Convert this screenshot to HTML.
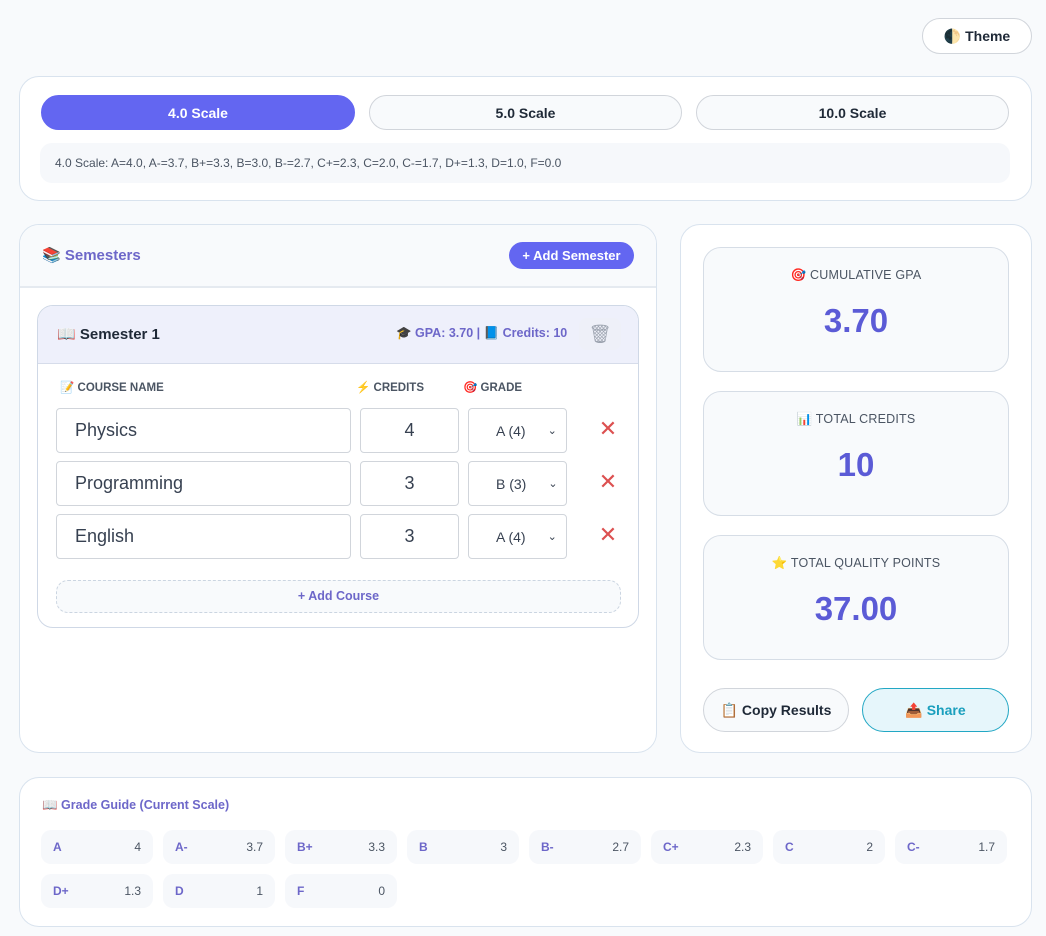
<!DOCTYPE html>
<html><head><meta charset="utf-8"><style>
*{box-sizing:border-box;margin:0;padding:0}
body{width:1046px;height:936px;background:#f8fafc;font-family:"Liberation Sans","Noto Sans CJK SC",sans-serif;position:relative;overflow:hidden;color:#1f2937}
.a{position:absolute}
.card{position:absolute;background:#fff;border:1px solid #d9e3ee;border-radius:20px}
.pill{position:absolute;border-radius:18px;border:1px solid #d1d5db;background:#f8fafc;display:flex;align-items:center;justify-content:center;font-weight:bold;font-size:14px;color:#1f2937}
.inp{position:absolute;border:1px solid #d1d5db;border-radius:4px;background:#fff;font-size:18px;color:#374151;display:flex;align-items:center}
.x{position:absolute;color:#dc5050;font-size:22px;width:56px;text-align:center}
.stat{position:absolute;left:703px;width:306px;height:125px;border:1px solid #d6dde6;border-radius:18px;background:#f8fafc;text-align:center}
.stat .l{margin-top:20px;font-size:12.5px;color:#4b5563;letter-spacing:.2px}
.stat .v{margin-top:19px;font-size:33px;font-weight:bold;color:#5b5bd6}
.chip{position:absolute;width:112px;height:34px;background:#f6f8fb;border-radius:10px;font-size:12px;display:flex;align-items:center;justify-content:space-between;padding:0 12px}
.chip b{color:#6d67c9}
.chip span{color:#4b5563}
.lab{position:absolute;top:380px;font-size:11.5px;font-weight:bold;color:#4b5563}
</style></head><body>
<div class="pill" style="left:922px;top:18px;width:110px;height:36px;background:#fff">🌓&nbsp;Theme</div>

<div class="card" style="left:19px;top:76px;width:1013px;height:125px"></div>
<div class="pill" style="left:41px;top:95px;width:314px;height:35px;background:#6366f1;color:#fff;border-color:#6366f1">4.0 Scale</div>
<div class="pill" style="left:369px;top:95px;width:313px;height:35px">5.0 Scale</div>
<div class="pill" style="left:696px;top:95px;width:313px;height:35px">10.0 Scale</div>
<div class="a" style="left:40px;top:143px;width:970px;height:40px;background:#f6f8fb;border-radius:12px;font-size:12px;color:#4b5563;padding:13px 15px">4.0 Scale: A=4.0, A-=3.7, B+=3.3, B=3.0, B-=2.7, C+=2.3, C=2.0, C-=1.7, D+=1.3, D=1.0, F=0.0</div>

<div class="card" style="left:19px;top:224px;width:638px;height:529px;overflow:hidden">
 <div style="height:63px;background:#f8fafc;border-bottom:2px solid #e5eaf0"></div>
</div>
<div class="a" style="left:42px;top:246px;font-size:15px;font-weight:bold;color:#6d67c9">📚 Semesters</div>
<div class="a" style="left:509px;top:242px;width:125px;height:27px;border-radius:14px;background:#6366f1;color:#fff;font-size:13px;font-weight:bold;text-align:center;line-height:27px">+ Add Semester</div>

<div class="a" style="left:37px;top:305px;width:602px;height:323px;border:1px solid #cfd8e6;border-radius:16px;background:#fff;overflow:hidden">
 <div style="height:58px;background:#eef0fb;border-bottom:1px solid #d6dcea"></div>
</div>
<div class="a" style="left:57px;top:325px;font-size:15px;font-weight:bold;color:#1f2937">📖 Semester 1</div>
<div class="a" style="left:396px;top:326px;font-size:12.5px;font-weight:bold;color:#6d67c9">🎓 GPA: 3.70 | 📘 Credits: 10</div>
<div class="a" style="left:579px;top:318px;width:42px;height:32px;border-radius:8px;background:#eef0f8;text-align:center;line-height:32px;color:#9ca3af;font-size:18px">🗑</div>

<div class="lab" style="left:60px">📝 COURSE NAME</div>
<div class="lab" style="left:356px">⚡ CREDITS</div>
<div class="lab" style="left:463px">🎯 GRADE</div>

<div class="inp" style="left:56px;top:408px;width:295px;height:45px;padding-left:18px">Physics</div>
<div class="inp" style="left:360px;top:408px;width:99px;height:45px;justify-content:center">4</div>
<div class="inp" style="left:468px;top:408px;width:99px;height:45px;font-size:14px;padding-left:27px">A (4)<span style="margin-left:22px;font-size:11px">⌄</span></div>
<div class="x" style="left:580px;top:416px">✕</div>

<div class="inp" style="left:56px;top:461px;width:295px;height:45px;padding-left:18px">Programming</div>
<div class="inp" style="left:360px;top:461px;width:99px;height:45px;justify-content:center">3</div>
<div class="inp" style="left:468px;top:461px;width:99px;height:45px;font-size:14px;padding-left:27px">B (3)<span style="margin-left:22px;font-size:11px">⌄</span></div>
<div class="x" style="left:580px;top:469px">✕</div>

<div class="inp" style="left:56px;top:514px;width:295px;height:45px;padding-left:18px">English</div>
<div class="inp" style="left:360px;top:514px;width:99px;height:45px;justify-content:center">3</div>
<div class="inp" style="left:468px;top:514px;width:99px;height:45px;font-size:14px;padding-left:27px">A (4)<span style="margin-left:22px;font-size:11px">⌄</span></div>
<div class="x" style="left:580px;top:522px">✕</div>

<div class="a" style="left:56px;top:580px;width:565px;height:33px;border:1px dashed #cbd5e1;border-radius:12px;background:#f8fafc;text-align:center;line-height:31px;font-size:12.5px;font-weight:bold;color:#6d67c9">+ Add Course</div>

<div class="card" style="left:680px;top:224px;width:352px;height:529px"></div>
<div class="stat" style="top:247px"><div class="l">🎯 CUMULATIVE GPA</div><div class="v">3.70</div></div>
<div class="stat" style="top:391px"><div class="l">📊 TOTAL CREDITS</div><div class="v">10</div></div>
<div class="stat" style="top:535px"><div class="l">⭐ TOTAL QUALITY POINTS</div><div class="v">37.00</div></div>
<div class="pill" style="left:703px;top:688px;width:146px;height:44px;border-radius:22px;font-size:14px">📋 Copy Results</div>
<div class="pill" style="left:862px;top:688px;width:147px;height:44px;border-radius:22px;font-size:14px;background:#e6f6fb;border-color:#22a7c4;color:#1a9fbd">📤 Share</div>

<div class="card" style="left:19px;top:777px;width:1013px;height:150px"></div>
<div class="a" style="left:42px;top:798px;font-size:12.5px;font-weight:bold;color:#6d67c9">📖 Grade Guide (Current Scale)</div>
<div class="chip" style="left:41px;top:830px"><b>A</b><span>4</span></div>
<div class="chip" style="left:163px;top:830px"><b>A-</b><span>3.7</span></div>
<div class="chip" style="left:285px;top:830px"><b>B+</b><span>3.3</span></div>
<div class="chip" style="left:407px;top:830px"><b>B</b><span>3</span></div>
<div class="chip" style="left:529px;top:830px"><b>B-</b><span>2.7</span></div>
<div class="chip" style="left:651px;top:830px"><b>C+</b><span>2.3</span></div>
<div class="chip" style="left:773px;top:830px"><b>C</b><span>2</span></div>
<div class="chip" style="left:895px;top:830px"><b>C-</b><span>1.7</span></div>
<div class="chip" style="left:41px;top:874px"><b>D+</b><span>1.3</span></div>
<div class="chip" style="left:163px;top:874px"><b>D</b><span>1</span></div>
<div class="chip" style="left:285px;top:874px"><b>F</b><span>0</span></div>
</body></html>
